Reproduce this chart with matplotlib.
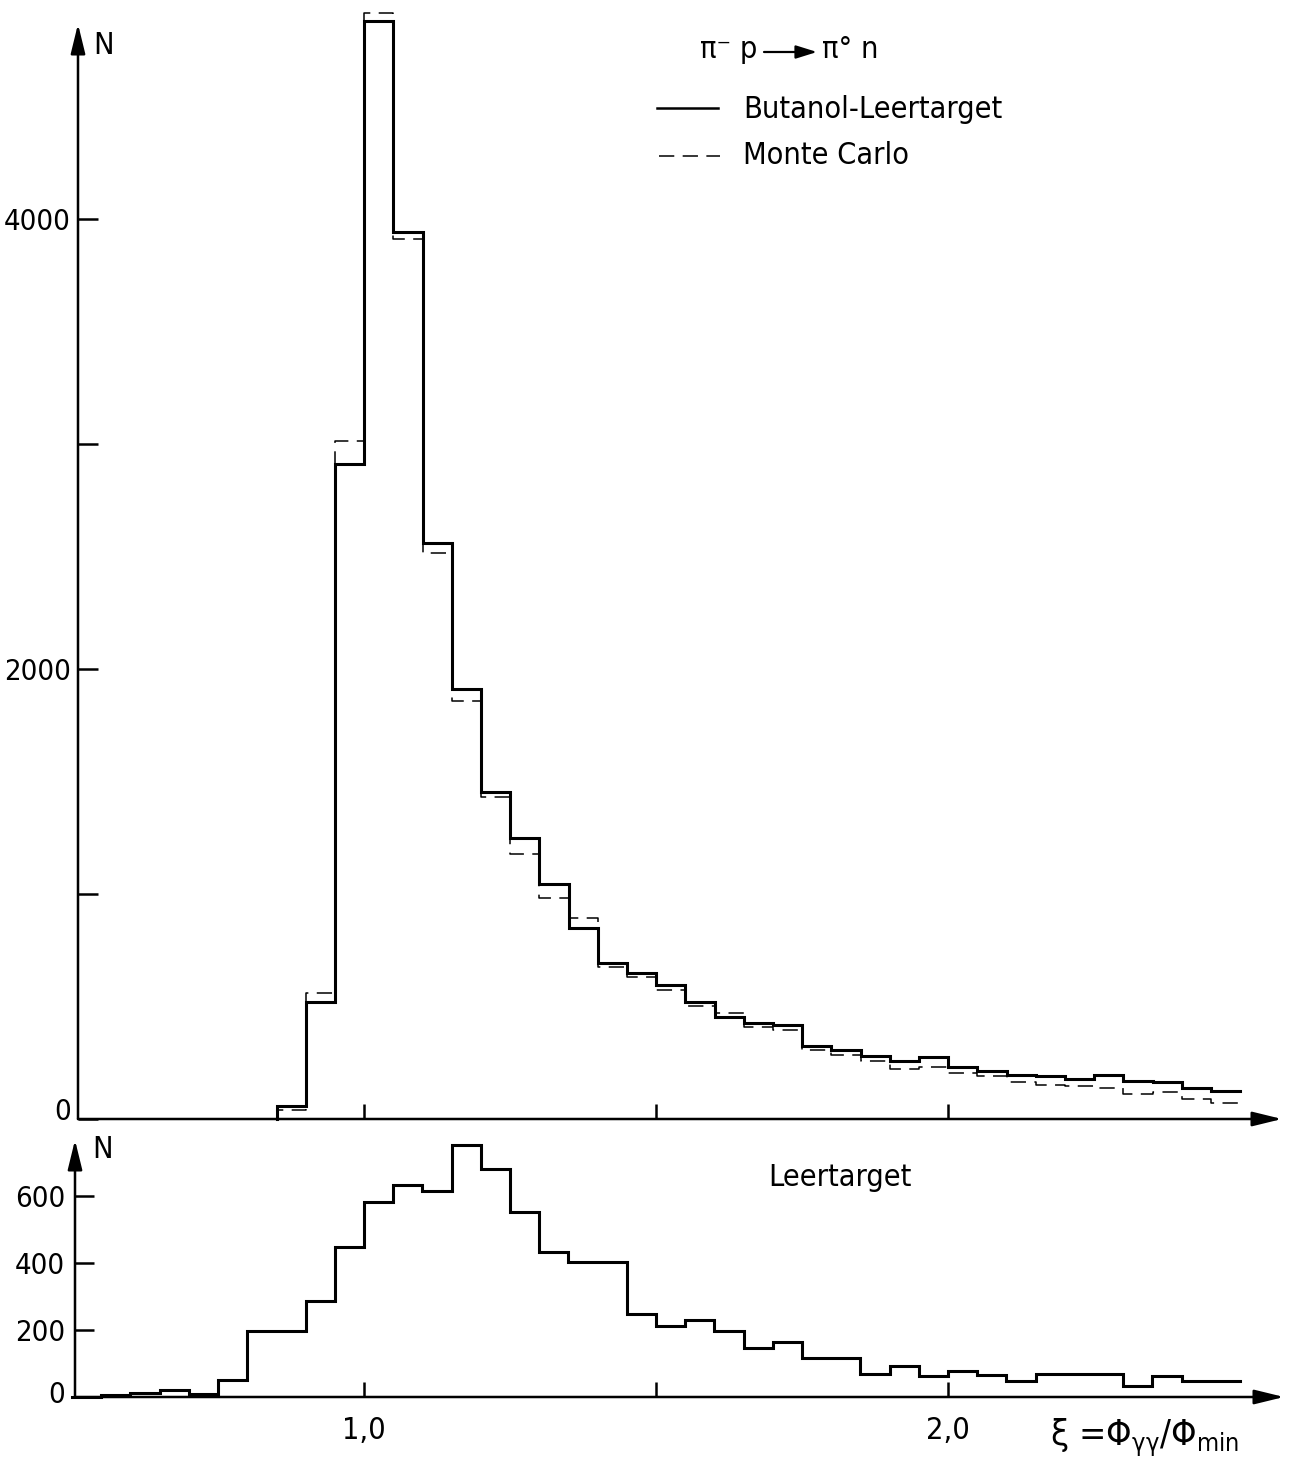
import numpy as np
import matplotlib
matplotlib.use('Agg')
import matplotlib.pyplot as plt
from matplotlib.lines import Line2D
from matplotlib.patches import FancyArrowPatch
from matplotlib.transforms import ScaledTranslation

# ---------------- data ----------------
edges_top = np.round(np.arange(0.85, 2.5001, 0.05), 2)          # xi bin edges, upper panel
butanol_minus_empty = [58, 518, 2913, 4880, 3940, 2560, 1913, 1453, 1250, 1045,
                       850, 693, 650, 597, 521, 452, 428, 417, 326, 307,
                       281, 260, 275, 230, 215, 194, 190, 177, 197, 170,
                       165, 139, 124]
monte_carlo = [40, 562, 3012, 4917, 3910, 2515, 1858, 1431, 1180, 982,
               895, 676, 630, 573, 503, 472, 409, 395, 306, 285,
               256, 224, 232, 205, 190, 164, 149, 146, 136, 113,
               121, 91, 70]

edges_bottom = np.round(np.arange(0.50, 2.5001, 0.05), 2)       # xi bin edges, lower panel
empty_target = [0, 5, 12, 20, 10, 52, 198, 198, 288, 449,
                583, 634, 615, 752, 680, 553, 432, 402, 402, 248,
                213, 230, 198, 146, 164, 115, 115, 68, 94, 64,
                79, 66, 47, 68, 68, 68, 32, 63, 47, 47]

top_yticks = [0, 1000, 2000, 3000, 4000]
top_yticklabels = ['0', '', '2000', '', '4000']
bot_yticks = [0, 200, 400, 600]
bot_yticklabels = ['0', '200', '400', '600']
xticks = [1.0, 1.5, 2.0]
bot_xticklabels = ['1,0', '', '2,0']

# ---------------- style ----------------
plt.rcParams['font.family'] = ['DejaVu Sans']
plt.rcParams['font.stretch'] = 'condensed'
plt.rcParams['mathtext.fontset'] = 'dejavusans'
FS = 22
LW_AX = 1.8
LW_SOLID = 2.2
LW_DASH = 1.1
DASH = (0, (10, 5.5))

W, H = 1289, 1461
fig = plt.figure(figsize=(W / 100, H / 100), dpi=100)
fig.patch.set_facecolor('white')


def fx(x):
    return x / W


def fy(y):
    return 1 - y / H


PPU = 584.0  # pixels per xi unit

# upper axes
ax1 = fig.add_axes([fx(78), fy(1119), (W - 78) / W, 1119 / H])
ax1.set_xlim(0.51, 0.51 + (W - 78) / PPU)
ax1.set_ylim(0, 1119 / 0.225)

# lower axes
ax2 = fig.add_axes([fx(75), fy(1397), (W - 75) / W, (1397 - 1128) / H])
ax2.set_xlim(0.505, 0.505 + (W - 75) / PPU)
ax2.set_ylim(0, (1397 - 1128) / 0.335)

for ax in (ax1, ax2):
    ax.set_facecolor('none')
    for s in ax.spines.values():
        s.set_visible(False)


def draw_hist(ax, edges, vals, **kw):
    x = np.r_[edges[0], edges]
    y = np.r_[0, vals, vals[-1]]
    ax.step(x, y, where='post', clip_on=False, **kw)


draw_hist(ax1, edges_top, monte_carlo, color='k', lw=LW_DASH, linestyle=DASH)
draw_hist(ax1, edges_top, butanol_minus_empty, color='k', lw=LW_SOLID,
          solid_joinstyle='miter')
draw_hist(ax2, edges_bottom, empty_target, color='k', lw=LW_SOLID,
          solid_joinstyle='miter')


def axis_arrow(ax, p0, p1):
    ax.annotate('', xy=p1, xytext=p0, xycoords='data', textcoords='data',
                arrowprops=dict(arrowstyle='-|>,head_length=0.9,head_width=0.22',
                                mutation_scale=20, lw=LW_AX, color='k',
                                shrinkA=0, shrinkB=0),
                annotation_clip=False)


axis_arrow(ax1, (0.51, 0), (0.51 + (1282 - 78) / PPU, 0))
axis_arrow(ax1, (0.51, 0), (0.51, (1119 - 24) / 0.225))
axis_arrow(ax2, (0.505, 0), (0.505 + (1284 - 75) / PPU, 0))
axis_arrow(ax2, (0.505, 0), (0.505, (1397 - 1140) / 0.335))

# ticks
ax1.set_yticks(top_yticks, top_yticklabels)
ax1.set_xticks(xticks, ['', '', ''])
ax1.tick_params(axis='y', direction='in', length=14.4, width=LW_AX, pad=5,
                labelsize=21)
ax1.tick_params(axis='x', direction='in', length=10.8, width=LW_AX)

ax2.set_yticks(bot_yticks, bot_yticklabels)
ax2.set_xticks(xticks, bot_xticklabels)
ax2.tick_params(axis='y', direction='in', length=13.7, width=LW_AX, pad=7,
                labelsize=21)
ax2.tick_params(axis='x', direction='in', length=10.8, width=LW_AX, pad=14,
                labelsize=FS)

# lift the "0" labels slightly above the axis line, as in the original
for ax, dy in ((ax1, 0.10), (ax2, 0.05)):
    lab = ax.yaxis.get_major_ticks()[0].label1
    lab.set_transform(lab.get_transform() + ScaledTranslation(0, dy, fig.dpi_scale_trans))

# texts
fig.text(fx(93), fy(45), 'N', fontsize=FS, va='center', ha='left')
fig.text(fx(92), fy(1150), 'N', fontsize=FS, va='center', ha='left')

fig.text(fx(700), fy(50), 'π⁻ p', fontsize=FS, va='center', ha='left')
fig.add_artist(FancyArrowPatch(posA=(fx(764), fy(52)), posB=(fx(817), fy(52)),
                               transform=fig.transFigure,
                               arrowstyle='-|>,head_length=0.8,head_width=0.25',
                               mutation_scale=16, lw=1.6, color='k',
                               shrinkA=0, shrinkB=0))
fig.text(fx(822), fy(50), 'π° n', fontsize=FS, va='center', ha='left')

fig.add_artist(Line2D([fx(657), fx(718)], [fy(108), fy(108)],
                      transform=fig.transFigure, color='k', lw=1.8))
fig.add_artist(Line2D([fx(659), fx(720)], [fy(156), fy(156)],
                      transform=fig.transFigure, color='k', lw=LW_DASH,
                      linestyle=DASH))
fig.text(fx(743), fy(110), 'Butanol-Leertarget', fontsize=FS, va='center', ha='left')
fig.text(fx(743), fy(156), 'Monte Carlo', fontsize=FS, va='center', ha='left')

fig.text(fx(768), fy(1177), 'Leertarget', fontsize=FS, va='center', ha='left')

fig.text(fx(1050), fy(1438),
         r'$\mathrm{\xi}$ =$\Phi_{\mathrm{\gamma\gamma}}/\Phi_{\mathrm{min}}$',
         fontsize=26, va='center', ha='left')

fig.savefig('out.png', dpi=100, facecolor='white')
